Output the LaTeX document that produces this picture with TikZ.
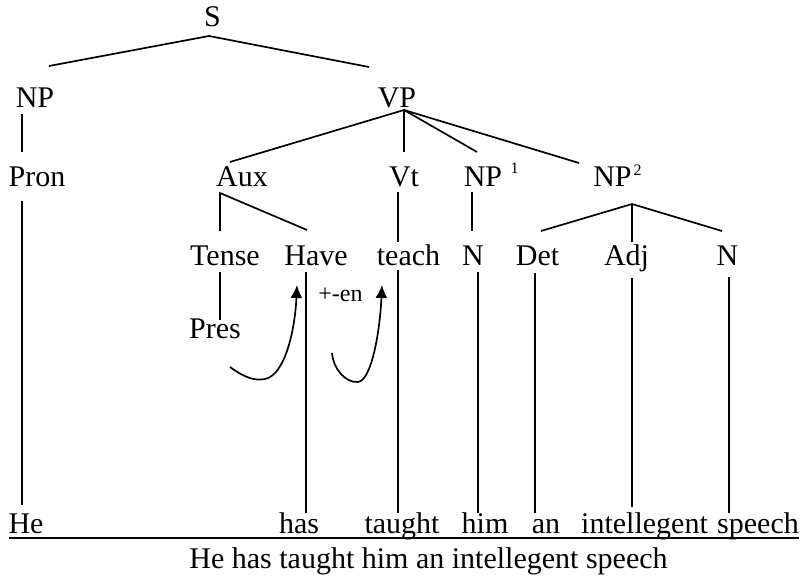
\documentclass[tikz,border=0pt]{standalone}
\usepackage{fontspec}
\setmainfont{Liberation Serif}
\usetikzlibrary{arrows.meta}

\begin{document}
\begin{tikzpicture}[x=1pt,y=-1pt,
  lbl/.style={font=\fontsize{30}{35}\selectfont, inner sep=0pt, anchor=base},
  suplbl/.style={font=\fontsize{16}{19}\selectfont, inner sep=0pt, anchor=base},
  small/.style={font=\fontsize{24}{28}\selectfont, inner sep=0pt, anchor=base},
  branch/.style={line width=1.7pt},
  move/.style={line width=1.7pt, -{Latex[length=13pt,width=12pt]}},
  rule/.style={line width=2.7pt}]

\path[use as bounding box] (0,0) rectangle (802,578);

% ---- labels ----
\node[lbl] (S)     at (212.5,27) {S};
\node[lbl] (NP)    at (35,107)   {NP};
\node[lbl] (VP)    at (397,107)  {VP};
\node[lbl] (Pron)  at (37,186)   {Pron};
\node[lbl] (Aux)   at (242,186)  {Aux};
\node[lbl] (Vt)    at (404,186)  {Vt};
\node[lbl] (NPa)   at (483,186)  {NP};
\node[suplbl] (NPaidx) at (514.5,173) {1};
\node[lbl] (NPb)   at (612.5,186) {NP};
\node[suplbl] (NPbidx) at (637.5,175) {2};
\node[lbl] (Tense) at (225,265)  {Tense};
\node[lbl] (Have)  at (316,265)  {Have};
\node[lbl] (teach) at (408.5,265) {teach};
\node[lbl] (Na)    at (473,265)  {N};
\node[lbl] (Det)   at (537.5,265) {Det};
\node[lbl] (Adj)   at (626.5,265) {Adj};
\node[lbl] (Nb)    at (727.5,265) {N};
\node[lbl] (Pres)  at (215,338)  {Pres};
\node[small] (en)  at (340.5,301) {+-en};

\node[lbl] (He)     at (26,533)    {He};
\node[lbl] (has)    at (299,533)   {has};
\node[lbl] (taught) at (402,533)   {taught};
\node[lbl] (him)    at (485,533)   {him};
\node[lbl] (an)     at (546,533)   {an};
\node[lbl] (intel)  at (644.5,533) {intellegent};
\node[lbl] (speech) at (758,533)   {speech};
\node[lbl] (sent)   at (428.5,568) {He has taught him an intellegent speech};

% ---- branch points and line ends ----
\coordinate (Sroot) at (209,36);
\coordinate (NPtop) at (49,66);
\coordinate (VPtop) at (369,67);
\coordinate (NPfoot) at (22,114);
\coordinate (Prontop) at (22,152);
\coordinate (Pronfoot) at (22,201);
\coordinate (Hetop) at (22,505);
\coordinate (VProot) at (404,110);
\coordinate (Auxtop) at (230,162);
\coordinate (Vttop) at (404,152);
\coordinate (NPatop) at (477,152);
\coordinate (NPbtop) at (579,163);
\coordinate (Auxroot) at (220,193);
\coordinate (Tensetop) at (220,231);
\coordinate (Havetop) at (307,230);
\coordinate (Tensefoot) at (220,272);
\coordinate (Prestop) at (220,320);
\coordinate (Havefoot) at (306,272);
\coordinate (hastop) at (306,513);
\coordinate (Vtfoot) at (398,192);
\coordinate (teachtop) at (398,242);
\coordinate (teachfoot) at (398,270);
\coordinate (taughttop) at (398,513);
\coordinate (NPafoot) at (472,192);
\coordinate (Natop) at (472,231);
\coordinate (Nafoot) at (478,272);
\coordinate (himtop) at (478,513);
\coordinate (NPbroot) at (632,204);
\coordinate (Dettop) at (541,231);
\coordinate (Adjtop) at (632,242);
\coordinate (Nbtop) at (722,231);
\coordinate (Detfoot) at (535,273);
\coordinate (antop) at (535,513);
\coordinate (Adjfoot) at (632,278);
\coordinate (inteltop) at (632,507);
\coordinate (Nbfoot) at (729,277);
\coordinate (speechtop) at (729,513);
\coordinate (ruleL) at (9,538);
\coordinate (ruleR) at (799,538);

% ---- tree branches ----
\draw[branch] (NPtop) -- (Sroot) -- (VPtop);
\draw[branch] (NPfoot) -- (Prontop);
\draw[branch] (Pronfoot) -- (Hetop);
\draw[branch] (Auxtop) -- (VProot) -- (NPbtop);
\draw[branch] (VProot) -- (Vttop);
\draw[branch] (VProot) -- (NPatop);
\draw[branch] (Tensetop) -- (Auxroot) -- (Havetop);
\draw[branch] (Tensefoot) -- (Prestop);
\draw[branch] (Havefoot) -- (hastop);
\draw[branch] (Vtfoot) -- (teachtop);
\draw[branch] (teachfoot) -- (taughttop);
\draw[branch] (NPafoot) -- (Natop);
\draw[branch] (Nafoot) -- (himtop);
\draw[branch] (Dettop) -- (NPbroot) -- (Nbtop);
\draw[branch] (NPbroot) -- (Adjtop);
\draw[branch] (Detfoot) -- (antop);
\draw[branch] (Adjfoot) -- (inteltop);
\draw[branch] (Nbfoot) -- (speechtop);

% ---- affix hopping arrows ----
\coordinate (hopAstart) at (230,367);
\coordinate (hopAlow) at (265,379);
\coordinate (hopAend) at (297,285);
\coordinate (hopBstart) at (332,353);
\coordinate (hopBlow) at (358,382);
\coordinate (hopBend) at (382,285);
\draw[move] (hopAstart) .. controls (245,378) and (255,381) .. (hopAlow)
  .. controls (285,375) and (295,330) .. (hopAend);
\draw[move] (hopBstart) .. controls (333,368) and (345,383) .. (hopBlow)
  .. controls (372,380) and (380,330) .. (hopBend);

% ---- underline of the surface string ----
\draw[rule] (ruleL) -- (ruleR);
\end{tikzpicture}
\end{document}
